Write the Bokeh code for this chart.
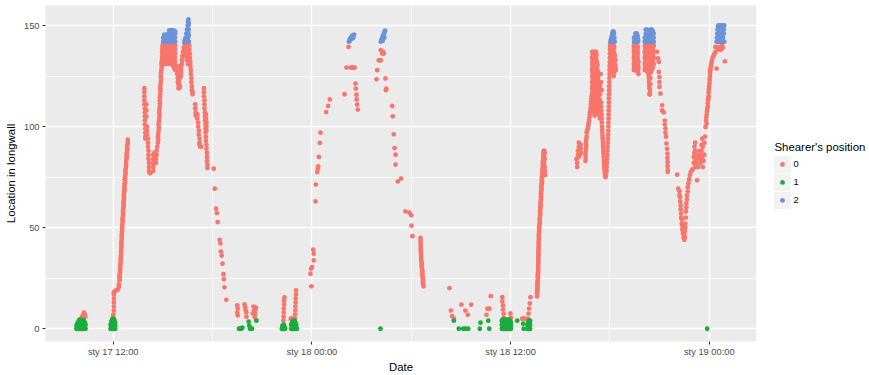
import pandas as pd
from bokeh.plotting import figure
from bokeh.layouts import row
from bokeh.models import Range1d, FixedTicker, DatetimeTickFormatter, ColumnDataSource
from bokeh.core.properties import value
from bokeh.embed import file_html
from bokeh.resources import INLINE

START = pd.Timestamp("2017-01-17 00:00")

# ---- data: (hours since 17 Jan 00:00, [locations read at that time]) ----
pos0_cols = [
    (10.08, [5]), (10.12, [6]), (10.16, [5]), (10.2, [7]), (10.24, [8]), (10.28, [7]), (10.31, [6]),
    (11.95, [5]), (11.99, [6]), (12.01, [5, 7]), (12.04, [9, 11, 13, 15, 17, 18]), (12.1, [18.5]),
    (12.16, [19]), (12.22, [19]), (12.28, [19.5]), (12.34, [20.5, 22]), (12.38, [24, 26]),
    (12.41, [28, 30]), (12.44, [32, 34]), (12.47, [36, 38]), (12.49, [40, 42]), (12.51, [44, 46]),
    (12.53, [48, 50]), (12.56, [52, 54]), (12.59, [56, 58]), (12.62, [60, 62]), (12.64, [64, 66]),
    (12.67, [68, 70]), (12.7, [72, 74]), (12.73, [76, 78]), (12.77, [80, 82]), (12.8, [84, 86]),
    (12.84, [88, 90]), (12.88, [92, 93.5]),
    (12.355, [21]), (12.395, [25, 27]), (12.425, [29, 31]), (12.455, [33, 35]), (12.48, [37, 39]),
    (12.5, [41, 43]), (12.52, [45, 47]), (12.545, [49, 51]), (12.575, [53, 55]), (12.605, [57, 59]),
    (12.63, [61, 63]), (12.655, [65, 67]), (12.685, [69, 71]), (12.715, [73, 75]), (12.75, [77, 79]),
    (12.785, [81, 83]), (12.82, [85, 87]), (12.86, [89, 91]),
    (13.88, [119, 117, 115, 113, 111]), (13.91, [109, 107, 105, 103, 101]), (13.94, [99, 97, 95, 94]),
    (14.0, [111, 108, 105]), (14.04, [100, 98, 96]), (14.1, [94, 92, 90]), (14.13, [88, 86, 84]),
    (14.16, [82, 80, 78]), (14.2, [77]), (14.25, [77]),
    (14.42, [78, 80, 82, 84, 86]), (14.48, [87]), (14.53, [86, 84]), (14.58, [82, 84]), (14.62, [86, 88]),
    (14.66, [90]), (14.7, [92, 95]), (14.74, [98, 101]), (14.78, [104, 107]), (14.81, [110, 113]),
    (14.84, [116, 119]), (14.87, [122, 125]), (14.91, [128, 131]), (14.95, [134, 137]), (14.98, [140]),
    (14.72, [93.5, 96.5]), (14.76, [99.5, 102.5]), (14.795, [105.5, 108.5]), (14.825, [111.5, 114.5]),
    (14.855, [117.5, 120.5]), (14.89, [123.5, 126.5]), (14.93, [129.5, 132.5]), (14.965, [135.5, 138.5]),
    (15.02, [133, 135, 137, 139, 141]), (15.08, [132, 134, 136, 138, 140]),
    (15.14, [131, 133, 135, 137, 139, 141]), (15.2, [131, 133, 135, 137, 139, 141]),
    (15.26, [132, 134, 136, 138, 140]), (15.32, [133, 135, 137, 139, 141]),
    (15.38, [131, 133, 135, 137, 139, 141]), (15.44, [132, 134, 136, 138, 140]),
    (15.5, [132, 134, 136, 138, 140]), (15.56, [131, 133, 135, 137, 139, 141]),
    (15.62, [130, 132, 134, 136, 138, 140]), (15.68, [129, 131, 133, 135, 137, 139, 141]),
    (15.74, [128, 130, 132, 134, 136, 138, 140]),
    (15.82, [130]), (15.86, [126, 128]), (15.9, [122, 124]), (15.94, [119, 121]), (15.98, [119, 121, 123]),
    (16.02, [120, 124, 126]), (16.06, [128, 130]), (16.1, [125, 127, 129]), (16.14, [131, 133]),
    (16.18, [133, 135]), (16.22, [135, 137]), (16.26, [137, 139]), (16.3, [139, 141]), (16.34, [141]),
    (16.38, [135, 138, 141]), (16.42, [137, 139, 141]), (16.46, [133, 136, 139, 141]),
    (16.5, [131, 134, 137, 140]), (16.54, [135, 138, 141]),
    (16.6, [140, 138]), (16.63, [136, 134]), (16.66, [132, 130]), (16.69, [128, 126]), (16.72, [124, 122]),
    (16.75, [120, 118]), (16.79, [117, 116]),
    (16.95, [111, 109]), (16.98, [107, 105.5]), (17.08, [106, 104]), (17.13, [102, 100]), (17.17, [98, 96]),
    (17.21, [94, 92, 91]), (17.26, [90]), (17.31, [90]),
    (17.48, [119, 117, 115]), (17.51, [113, 111, 109]), (17.54, [107, 105, 103]), (17.57, [101, 99, 97]),
    (17.6, [106, 104, 95, 93]), (17.63, [102, 100, 98, 91, 89]), (17.66, [87, 85, 83]), (17.69, [81, 79.5]),
    (18.07, [79.2]), (18.13, [69.3]), (18.21, [59.4]), (18.26, [57.2]), (18.31, [52.8]), (18.43, [44]),
    (18.47, [42.2]), (18.5, [38.2]), (18.55, [36.2]), (18.6, [32.2]), (18.66, [27]), (18.68, [24.5]),
    (18.72, [20.5]), (18.83, [14.3]),
    (19.49, [11.5, 8]), (19.52, [10, 6.6]), (19.93, [12]), (19.97, [10.5]), (20.0, [9]), (20.04, [6, 8]),
    (20.43, [7.5]), (20.47, [11]), (20.5, [9]), (20.55, [5.7]), (20.57, [7.5]), (20.59, [9.4]), (20.62, [10.5]),
    (22.28, [4]), (22.29, [6]), (22.3, [8, 10]), (22.32, [12, 14]), (22.34, [15.5]),
    (22.72, [5]), (22.78, [5]), (22.84, [5]), (22.9, [5]), (22.98, [5, 7]), (23.0, [9, 11]),
    (23.02, [13, 15]), (23.04, [17, 19]),
    (23.97, [21]), (23.91, [27.2]), (23.95, [29.7]), (24.01, [30.5]), (24.11, [33.8, 37.1]), (24.08, [39.1]),
    (24.22, [63]), (24.24, [71.3]), (24.32, [77.5]), (24.36, [79.2]), (24.38, [80.3]), (24.42, [85]),
    (24.48, [91.9]), (24.52, [97]), (24.86, [107.2]), (24.98, [110.2]), (25.08, [113.4]),
    (25.97, [116]), (26.09, [129.2]), (26.21, [139.4]), (26.33, [129.2]), (26.42, [129.2]), (26.5, [129.2]),
    (26.58, [129.2]), (26.63, [121.3]), (26.65, [118.8]), (26.69, [115.8]), (26.7, [113.4]), (26.73, [110.9]),
    (26.77, [108.4]),
    (27.9, [123.4]), (27.94, [127.9]), (28.04, [132.8]), (28.1, [132.8]), (28.16, [132.8, 137.8]),
    (28.24, [136.1]), (28.3, [137]), (28.34, [136.1]), (28.44, [123.8]), (28.47, [118]), (28.49, [118.8]),
    (28.85, [110.2]), (28.88, [105.1]), (28.94, [96.2]), (28.99, [89.4]), (29.05, [86.1, 81.2]),
    (29.19, [72.9]), (29.39, [74.3]), (29.65, [58.1]), (29.89, [57.4]), (30.0, [56.1]), (30.01, [51]),
    (30.07, [45.8]),
    (30.56, [45, 43]), (30.57, [41, 39]), (30.59, [37, 35]), (30.62, [33, 31]), (30.66, [29, 27]),
    (30.7, [25, 23]), (30.74, [21]),
    (30.565, [44, 42]), (30.58, [40, 38]), (30.6, [36, 34]), (30.64, [32, 30]), (30.68, [28, 26]),
    (30.72, [24, 22]),
    (32.31, [20.1]), (32.39, [9]), (32.47, [6.2]), (32.57, [5]), (33.03, [11.9]), (33.27, [9]),
    (33.41, [6.9]), (33.62, [11.9]), (34.54, [6.9]), (34.6, [9.9]), (34.72, [9.9]), (34.8, [16.1]),
    (35.5, [15.6, 13.5]), (35.54, [11.5, 9.5]), (35.58, [7.5, 5.5]), (35.99, [7.6]), (36.02, [5.5]),
    (36.7, [5]), (36.76, [5]), (36.82, [5]),
    (37.04, [5]), (37.08, [7.5]), (37.12, [10]), (37.16, [12.5]), (37.2, [15.6]),
    (37.6, [16, 18]), (37.62, [20, 22]), (37.64, [24, 26]), (37.66, [28, 30]), (37.67, [32, 34]),
    (37.68, [36, 38]), (37.69, [40, 42]), (37.7, [44, 46]), (37.72, [48, 50]), (37.75, [52, 54]),
    (37.78, [56, 58]), (37.8, [60, 62]), (37.83, [64, 66]), (37.85, [68, 70]), (37.88, [72, 74]),
    (37.91, [76, 78]), (37.94, [80, 82]), (37.97, [84, 86]), (38.0, [88]), (38.03, [82, 85, 88]),
    (38.06, [80, 84, 87]), (38.09, [76, 78]),
    (37.61, [17, 19]), (37.63, [21, 23]), (37.65, [25, 27]), (37.665, [29, 31]), (37.675, [33, 35]),
    (37.685, [37, 39]), (37.695, [41, 43]), (37.71, [45, 47]), (37.735, [49, 51]), (37.765, [53, 55]),
    (37.79, [57, 59]), (37.815, [61, 63]), (37.84, [65, 67]), (37.865, [69, 71]), (37.895, [73, 75]),
    (37.925, [77, 79]), (37.955, [81, 83]), (37.985, [85, 87]),
    (39.98, [84]), (40.02, [80, 82]), (40.06, [86, 88]), (40.12, [85, 88, 90, 92]), (40.18, [86]),
    (40.24, [87, 89, 91]),
    (40.52, [83, 86]), (40.55, [89, 92]), (40.59, [95, 97]), (40.66, [99]), (40.7, [101]), (40.74, [103]),
    (40.78, [106]), (40.82, [108]), (40.85, [111]), (40.88, [114]),
    (40.535, [84.5, 87.5]), (40.57, [90.5, 93.5]), (40.62, [98]), (40.68, [100]), (40.72, [102]),
    (40.76, [104.5]), (40.8, [107]), (40.835, [109.5]), (40.865, [112.5]), (40.9, [115]),
    (40.92, [116, 119, 122, 125, 128, 131, 134, 137]),
    (40.95, [117.5, 120.5, 123.5, 126.5, 129.5, 132.5, 135.5]),
    (40.98, [110, 113, 116, 119, 122, 125, 128, 131, 134, 137]),
    (41.01, [108.5, 111.5, 114.5, 117.5, 120.5, 123.5, 126.5, 129.5, 132.5, 135.5]),
    (41.04, [107, 110, 113, 116, 119, 122, 125, 128, 131, 134, 137]),
    (41.07, [105.5, 108.5, 111.5, 114.5, 117.5, 120.5, 123.5, 126.5, 129.5, 132.5, 135.5]),
    (41.1, [106, 109, 112, 115, 118, 121, 124, 127, 130, 133, 136]),
    (41.13, [107.5, 110.5, 113.5, 116.5, 119.5, 122.5, 125.5, 128.5, 131.5, 134.5, 137]),
    (41.16, [110, 113, 116, 119, 122, 125, 128, 131, 134, 137]),
    (41.19, [108.5, 111.5, 114.5, 117.5, 120.5, 123.5, 126.5, 129.5, 132.5, 135.5]),
    (41.22, [108, 111, 114, 117, 120, 123, 126, 129, 132]),
    (41.25, [106.5, 109.5, 112.5, 115.5, 118.5, 121.5, 124.5, 127.5, 130.5]),
    (41.28, [106, 109, 112, 115, 118, 121, 124, 127]),
    (41.31, [107.5, 110.5, 113.5, 116.5, 119.5, 122.5, 125.5]),
    (41.34, [107, 110, 113, 116, 119, 122]),
    (41.37, [105.5, 109.5, 113.5, 117.5, 121.5]),
    (41.4, [104, 108, 112, 116, 120]),
    (41.44, [126]), (41.46, [112, 122]), (41.48, [108]), (41.5, [104, 118]), (41.52, [100]), (41.54, [97]),
    (41.56, [94]), (41.58, [91]), (41.6, [88]), (41.62, [85]), (41.64, [82]), (41.66, [80]), (41.68, [78]),
    (41.7, [76]), (41.73, [75]), (41.76, [76]),
    (41.47, [110]), (41.49, [106]), (41.51, [102]), (41.53, [98.5]), (41.55, [95.5]), (41.57, [92.5]),
    (41.59, [89.5]), (41.61, [86.5]), (41.63, [83.5]), (41.65, [81]), (41.67, [79]), (41.69, [77]),
    (41.8, [78]), (41.82, [82]), (41.84, [86]), (41.86, [90]), (41.88, [94]), (41.9, [98]), (41.91, [102]),
    (41.92, [106]), (41.93, [110]), (41.94, [114]), (41.95, [118]), (41.96, [122]), (41.97, [126]),
    (41.98, [130]), (41.99, [134]), (42.0, [138]), (42.02, [141]),
    (41.81, [80]), (41.83, [84]), (41.85, [88]), (41.87, [92]), (41.89, [96]), (41.905, [100]),
    (41.915, [104]), (41.925, [108]), (41.935, [112]), (41.945, [116]), (41.955, [120]), (41.965, [124]),
    (41.975, [128]), (41.985, [132]), (41.995, [136]), (42.01, [139.5]),
    (42.05, [131, 134, 137, 140]), (42.08, [129.5, 132.5, 135.5, 138.5]), (42.11, [128, 131, 134, 137, 140]),
    (42.14, [126.5, 129.5, 132.5, 135.5, 138.5]), (42.17, [128, 131, 134, 137, 140]),
    (42.2, [126.5, 129.5, 132.5, 135.5, 138.5]), (42.23, [125, 128, 131, 134, 137, 140]),
    (42.26, [127, 130, 133, 136, 139]), (42.3, [129, 132, 135]), (42.33, [130, 133]), (42.36, [128]),
    (43.44, [128, 131, 134, 137, 140]), (43.46, [129.5, 132.5, 135.5, 138.5]),
    (43.48, [128, 131, 134, 137, 140]), (43.5, [129.5, 132.5, 135.5, 138.5]),
    (43.52, [130, 133, 136, 139]), (43.54, [131.5, 134.5, 137.5, 140]),
    (43.56, [132, 135, 138]), (43.58, [130.5, 133.5, 136.5, 139.5]),
    (43.6, [130, 133, 136, 139]), (43.62, [128.5, 131.5, 134.5, 137.5, 140]),
    (43.64, [128, 131, 134, 137, 140]), (43.66, [128.5, 131.5, 134.5, 137.5]),
    (43.68, [127, 130, 133, 136, 139]), (43.7, [127.5, 130.5]), (43.72, [126, 129, 132]),
    (44.1, [128, 131, 134, 137, 140]), (44.13, [129.5, 132.5, 135.5, 138.5]),
    (44.16, [128, 131, 134, 137, 140]), (44.19, [129.5, 132.5, 135.5, 138.5]),
    (44.22, [128, 131, 134, 137, 140]), (44.25, [128.5, 131.5, 134.5, 137.5, 140]),
    (44.28, [127, 130, 133, 136, 139]), (44.31, [126.5, 129.5, 132.5, 135.5, 138.5]),
    (44.34, [125, 128, 131, 134, 137, 140]), (44.36, [122, 123.5]),
    (44.38, [119, 116, 120.5]), (44.42, [116, 118]), (44.44, [121, 124]), (44.4, [128, 131, 134, 137, 140]),
    (44.43, [126.5, 129.5, 132.5, 135.5, 138.5]),
    (44.46, [127, 130, 133, 136, 139]), (44.49, [128.5, 131.5, 134.5, 137.5, 140]),
    (44.52, [128, 131, 134, 137, 140]), (44.55, [129.5, 132.5, 135.5, 138.5]),
    (44.58, [129, 132, 135, 138, 141]), (44.61, [130.5, 133.5, 136.5, 139.5]), (44.64, [131, 134, 137, 140]),
    (44.85, [137]), (44.91, [133.7]), (44.95, [132, 127]), (44.99, [124.5, 122, 119.6]), (45.05, [116.3]),
    (45.15, [110.5, 108]), (45.25, [107]), (45.31, [103, 101]), (45.35, [99, 97]), (45.39, [95]),
    (45.41, [91.6]), (45.45, [89]), (45.47, [86.6, 84.5]), (45.48, [82.5, 80.5]), (45.49, [78.5, 77.5]),
    (46.06, [76.2]), (46.12, [69.3]), (46.2, [66, 68]), (46.24, [63, 65]), (46.27, [59, 61]), (46.3, [55, 57]),
    (46.34, [52, 54]), (46.37, [49, 51]), (46.41, [47, 49]), (46.45, [45, 47]), (46.49, [44, 46]),
    (46.52, [45.3, 48]), (46.55, [50, 52]), (46.58, [55, 58]), (46.61, [60, 62]), (46.65, [64, 66]),
    (46.7, [68, 70]), (46.74, [72]), (46.78, [74]), (46.83, [76]), (46.88, [77.5]), (46.96, [78.4]),
    (47.0, [79]),
    (47.06, [82, 85]), (47.1, [87, 90]), (47.14, [88, 92]), (47.16, [80, 84]), (47.2, [82]), (47.26, [73.4]),
    (47.3, [86]), (47.33, [80]), (47.37, [84]), (47.41, [86, 88]), (47.46, [82]), (47.5, [85]),
    (47.53, [88, 91]), (47.57, [84, 94]), (47.61, [80, 90]), (47.65, [83, 86]), (47.7, [86, 92]),
    (47.74, [95]), (47.77, [99.8]),
    (47.8, [103]), (47.84, [101.5, 106]), (47.88, [109]), (47.92, [110, 113]), (47.96, [115, 117]),
    (47.99, [120]), (48.02, [123]), (48.04, [125]), (48.06, [127.9]), (48.1, [130]), (48.14, [132]),
    (48.18, [133.7]), (48.23, [134.5]), (48.27, [135.3]), (48.32, [136]), (48.37, [137, 139.4]),
    (47.82, [104.5]), (47.86, [107.5]), (47.9, [111.5]), (47.94, [114]), (47.975, [118.5]), (48.01, [121.5]),
    (48.03, [124]), (48.05, [126.5]), (48.08, [129]), (48.12, [131]), (48.16, [133]),
    (48.44, [128.7]), (48.5, [138]), (48.57, [139.4]), (48.62, [139]), (48.7, [138]), (48.76, [140]),
    (48.82, [139]), (48.94, [132.3]),
]

pos1_cols = [
    (9.78, [0, 1.5]), (9.83, [0, 2.5]), (9.88, [0, 1.5, 3]), (9.93, [0, 2, 4]), (9.98, [0, 1.5, 3, 4.5]),
    (10.03, [0, 2, 4]), (10.08, [0, 1.5, 3, 4.5]), (10.13, [0, 2, 4]), (10.18, [0, 1.5, 3]),
    (10.23, [0, 2, 4]), (10.28, [0, 1.5, 3]), (10.33, [0, 2]),
    (11.84, [0, 2]), (11.88, [0, 1.5, 3.5]), (11.92, [0, 2, 4]), (11.96, [0, 1.5, 3, 4.5]),
    (12.0, [0, 2, 4, 5]), (12.04, [0, 1.5, 3, 4.5]), (12.08, [0, 2, 4]), (12.12, [0, 1.5, 3]),
    (19.6, [0]), (19.66, [0]), (19.72, [0]), (19.8, [0.5]), (20.18, [3.5]), (20.22, [1.5]), (20.26, [0]),
    (20.32, [0]), (20.38, [0]), (20.65, [4]),
    (22.18, [0]), (22.22, [0, 1.5]), (22.26, [0]), (22.3, [0, 2]), (22.34, [0, 1]), (22.38, [0]),
    (22.75, [0, 2]), (22.8, [0, 1.5, 3]), (22.85, [0, 2, 4]), (22.9, [0, 1.5, 3]), (22.95, [0, 2, 4]),
    (23.0, [0, 1.5, 3]), (23.05, [0, 2]), (23.1, [0]),
    (28.14, [0]),
    (32.57, [4]), (32.87, [0]), (33.14, [0]), (33.27, [0]), (33.44, [0]), (34.14, [0]), (34.18, [3]),
    (34.65, [4]), (34.71, [0]),
    (35.47, [0, 2, 4]), (35.52, [0, 1.5, 3, 4.5]), (35.57, [0, 2, 4]), (35.62, [0, 1.5, 3, 4.5]),
    (35.67, [0, 2, 4]), (35.72, [0, 1.5, 3, 4.5]), (35.77, [0, 2, 4]), (35.82, [0, 1.5, 3, 4.5]),
    (35.87, [0, 2, 4]), (35.92, [0, 1.5, 3, 4.5]), (35.97, [0, 2, 4]), (36.02, [0, 1.5, 3]),
    (36.4, [4]), (36.76, [2.5]), (36.79, [0]),
    (37.02, [0, 2]), (37.06, [0, 1.5, 3.5]), (37.1, [0, 2, 4]), (37.14, [0, 1.5, 3]), (37.18, [0, 2, 4]),
    (47.87, [0]),
]

pos2_cols = [
    (15.02, [142, 144]), (15.08, [142, 144, 145.5]), (15.14, [142, 144, 145]), (15.2, [142, 143.5]),
    (15.26, [142, 143.5]), (15.32, [142, 144, 146]), (15.38, [142, 144, 146, 147.5]),
    (15.44, [142, 144, 146, 147.5]), (15.5, [142, 144, 146, 147.5]), (15.56, [142, 144, 146, 147.5]),
    (15.62, [142, 144, 146, 147.5]), (15.68, [142, 144, 146, 147.5]), (15.74, [142, 144, 146, 147]),
    (16.3, [142]), (16.34, [143]), (16.38, [144]), (16.42, [142, 146]), (16.46, [142, 144, 148]),
    (16.5, [142, 145, 148, 150]), (16.52, [144, 148, 152]), (16.54, [142, 146, 150, 153]),
    (16.56, [142, 145, 148, 151]),
    (26.24, [142]), (26.28, [142.5, 143]), (26.32, [143.5]), (26.36, [144]), (26.4, [144.5]),
    (26.42, [143.5]), (26.44, [145]), (26.5, [144, 145]), (26.55, [145.5]),
    (28.16, [142]), (28.2, [143]), (28.25, [144]), (28.28, [142.5]), (28.3, [145]), (28.35, [146]),
    (28.38, [144]), (28.4, [147]), (28.42, [147.5]),
    (42.03, [142]), (42.06, [143]), (42.09, [144]), (42.12, [142, 145]), (42.15, [146]), (42.18, [142, 147]),
    (42.21, [143, 147]), (42.24, [146]), (42.27, [144]), (42.28, [142]),
    (43.46, [142, 144]), (43.5, [142, 144]), (43.54, [142, 144, 146]), (43.58, [142, 144, 146]),
    (43.62, [142, 144, 146]), (43.66, [142, 144, 145]), (43.7, [142, 143]),
    (44.1, [142, 144]), (44.16, [142, 144, 146, 148]), (44.22, [142, 144, 146, 148]),
    (44.28, [142, 144, 146, 147.5]), (44.34, [142, 144]), (44.4, [142, 144, 146]),
    (44.46, [142, 144, 146, 148]), (44.52, [142, 144, 146, 148]), (44.58, [142, 144, 146, 147.5]),
    (44.64, [142, 144, 146]),
    (48.44, [142]), (48.46, [144]), (48.48, [142, 146]), (48.5, [148]), (48.52, [142, 149.5]),
    (48.56, [144, 150]), (48.6, [142, 146, 150]), (48.64, [146]), (48.66, [142, 148, 150]), (48.7, [144]),
    (48.72, [146, 150]), (48.76, [142, 148]), (48.78, [149]), (48.82, [144, 146]), (48.84, [142, 150]),
    (48.88, [146, 148]), (48.9, [142, 150]),
]

positions = ["0", "1", "2"]
colors = ["#F8766D", "#1AAD3C", "#6A93D8"]
legend_title = "Shearer's position"
x_ticks_h = [12, 24, 36, 48]
x_minor_h = [18, 30, 42]
y_ticks = [0, 50, 100, 150]
y_minor = [25, 75, 125]


def expand(cols):
    hrs, vals = [], []
    for h, vs in cols:
        for v in vs:
            hrs.append(h)
            vals.append(v)
    dates = START + pd.to_timedelta(hrs, unit="h")
    return ColumnDataSource(dict(date=dates, loc=vals))


def ms(h):
    return (START + pd.Timedelta(hours=h)).value / 1e6


FONT = "Liberation Sans"
PT_SIZE = 4.8
Y_LO, Y_HI = -6.3, 159.9

p = figure(width=756, height=375, x_axis_type="datetime",
           output_backend="svg", toolbar_location=None,
           min_border_left=45, min_border_right=0, min_border_top=5, min_border_bottom=32)
p.x_range = Range1d(START + pd.Timedelta(hours=7.91), START + pd.Timedelta(hours=50.85))
p.y_range = Range1d(Y_LO, Y_HI)

p.background_fill_color = "#EBEBEB"
p.border_fill_color = "white"
p.outline_line_color = None

for cols, col in zip([pos0_cols, pos1_cols, pos2_cols], colors):
    p.scatter("date", "loc", source=expand(cols), size=PT_SIZE, fill_color=col,
              line_color=None, marker="circle")

xt = FixedTicker(ticks=[ms(h) for h in x_ticks_h], minor_ticks=[ms(h) for h in x_minor_h])
yt = FixedTicker(ticks=y_ticks, minor_ticks=y_minor)
p.xaxis.ticker = xt
p.xgrid.ticker = xt
p.yaxis.ticker = yt
p.ygrid.ticker = yt

fmt = "sty %d %H:%M"
p.xaxis.formatter = DatetimeTickFormatter(
    microseconds=fmt, milliseconds=fmt, seconds=fmt, minsec=fmt, minutes=fmt,
    hourmin=fmt, hours=fmt, days=fmt, months=fmt, years=fmt)

for g in (p.xgrid, p.ygrid):
    g.grid_line_color = "white"
    g.grid_line_width = 1.4
    g.minor_grid_line_color = "white"
    g.minor_grid_line_width = 0.7

for ax in (p.xaxis, p.yaxis):
    ax.axis_line_color = None
    ax.major_tick_line_color = "#333333"
    ax.major_tick_line_width = 1
    ax.major_tick_out = 3
    ax.major_tick_in = 0
    ax.minor_tick_line_color = None
    ax.major_label_text_color = "#4D4D4D"
    ax.major_label_text_font = FONT
    ax.major_label_text_font_size = "9.3px"
    ax.major_label_standoff = 1
    ax.axis_label_text_font = FONT
    ax.axis_label_text_font_size = "11.4px"
    ax.axis_label_text_font_style = "normal"
    ax.axis_label_text_color = "black"
    ax.axis_label_standoff = 1
p.yaxis.major_label_standoff = 2
p.yaxis.axis_label_standoff = 4

p.xaxis.axis_label = "Date"
p.yaxis.axis_label = "Location in longwall"

# ---- legend panel: its frame is aligned with the main frame, so it shares the y scale ----
leg = figure(width=113, height=375, x_range=Range1d(756, 869), y_range=Range1d(Y_LO, Y_HI),
             output_backend="svg", toolbar_location=None, min_border=0,
             x_axis_location=None, y_axis_location=None)
leg.grid.visible = False
leg.outline_line_color = None
leg.background_fill_color = "white"
leg.border_fill_color = "white"

key_y = [81.3, 72.4, 63.5]     # rows of the legend, in the shared y scale
title_y = 89.7
leg.rect(x=[782] * 3, y=key_y, width=17, height=8.4, fill_color="#F2F2F2", line_color=None)
leg.scatter(x=[782] * 3, y=key_y, size=PT_SIZE, fill_color=colors, line_color=None, marker="circle")
leg.text(x=[793] * 3, y=key_y, text=positions, text_font=value(FONT), text_font_size=value("9.3px"),
         text_baseline="middle", text_align="left", text_color="black")
leg.text(x=[774], y=[title_y], text=[legend_title], text_font=value(FONT),
         text_font_size=value("11.4px"), text_baseline="middle", text_align="left", text_color="black")

open("out.html", "w").write(file_html(row(p, leg), INLINE))
